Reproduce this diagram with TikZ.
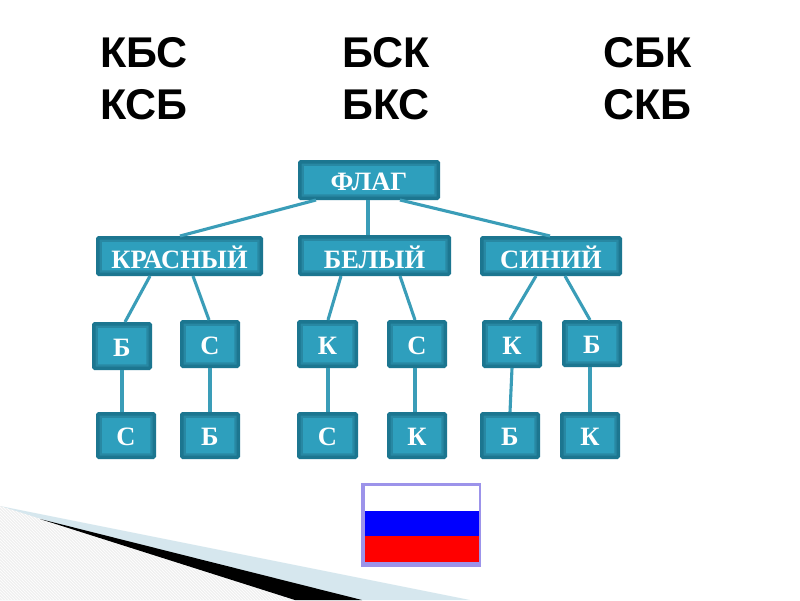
\documentclass[tikz,border=0pt]{standalone}
\usepackage{fontspec}
\setmainfont{Liberation Sans}
\newfontfamily\boxfont{Liberation Serif}[BoldFont={Liberation Serif Bold}]
\usetikzlibrary{calc,patterns}
\definecolor{tealfill}{HTML}{2E9FBD}
\definecolor{tealedge}{HTML}{1C7690}
\definecolor{tealring}{HTML}{2888A3}
\definecolor{teallink}{HTML}{3A9DB8}
\definecolor{paleblue}{HTML}{D6E7EE}
\definecolor{framelilac}{HTML}{9C93EA}
\tikzset{
  x=1pt,y=-1pt,
  tbox/.style={draw=tealedge,line width=3.5pt,fill=tealfill,rounded corners=1pt,inner sep=0pt,
    text=white,font=\boxfont\bfseries\fontsize{26.5}{28}\selectfont,anchor=north west,
    path picture={\draw[tealring,line width=8pt] (path picture bounding box.south west) rectangle (path picture bounding box.north east);}},
  link/.style={draw=teallink,line width=3.1pt},
  head/.style={font=\bfseries\fontsize{43}{47}\selectfont,text=black,anchor=west,inner sep=0pt}
}
\newcommand{\tb}[6]{\node[tbox,minimum width=#4pt-#2pt-3.5pt,minimum height=#5pt-#3pt-3.5pt] (#1) at (#2,#3) {\raisebox{-1.5pt}[\height][\depth]{#6}};}
\begin{document}
\begin{tikzpicture}
\useasboundingbox (0,0) rectangle (800,600);
\fill[white] (0,0) rectangle (800,600);
% bottom decoration
\fill[paleblue] (0,506) -- (470,600) -- (0,600) -- cycle;
\fill[black!6] (0,506) -- (295,600) -- (0,600) -- cycle;
\fill[pattern=north west lines,pattern color=white] (0,506) -- (295,600) -- (0,600) -- cycle;
\fill[black] (40,519) -- (362,600) -- (295,600) -- cycle;
% headings
\node[head] (h1) at (100,53) {КБС};
\node[head] (h2) at (100,105) {КСБ};
\node[head] (h3) at (342,53) {БСК};
\node[head] (h4) at (342,105) {БКС};
\node[head] (h5) at (603,53) {СБК};
\node[head] (h6) at (603,105) {СКБ};
% boxes
\tb{flag}{298}{160}{440}{200}{ФЛАГ}
\tb{red}{96}{236}{263}{276}{КРАСНЫЙ}
\tb{white}{298}{235}{451}{276}{БЕЛЫЙ}
\tb{blue}{480}{236}{622}{276}{СИНИЙ}
\tb{a1}{92}{322}{152}{370}{Б}
\tb{a2}{180}{320}{240}{368}{С}
\tb{a3}{297}{320}{358}{368}{К}
\tb{a4}{387}{320}{447}{368}{С}
\tb{a5}{482}{320}{542}{368}{К}
\tb{a6}{562}{320}{622}{367}{Б}
\tb{b1}{96}{412}{156}{459}{С}
\tb{b2}{180}{412}{240}{459}{Б}
\tb{b3}{297}{412}{358}{459}{С}
\tb{b4}{387}{412}{447}{459}{К}
\tb{b5}{480}{412}{540}{459}{Б}
\tb{b6}{560}{412}{620}{459}{К}
% connectors
\draw[link] ($(flag.south west)+(18,0)$) -- ($(red.north west)+(84,0)$);
\draw[link] ($(flag.south west)+(70,0)$) -- ($(white.north west)+(70,0)$);
\draw[link] ($(flag.south west)+(102,0)$) -- ($(blue.north west)+(70,0)$);
\draw[link] ($(red.south west)+(54,0)$) -- ($(a1.north west)+(33,0)$);
\draw[link] ($(red.south west)+(97,0)$) -- ($(a2.north west)+(29,0)$);
\draw[link] ($(white.south west)+(43,0)$) -- ($(a3.north west)+(31,0)$);
\draw[link] ($(white.south west)+(102,0)$) -- ($(a4.north west)+(28,0)$);
\draw[link] ($(blue.south west)+(56,0)$) -- ($(a5.north west)+(28,0)$);
\draw[link] ($(blue.south west)+(85,0)$) -- ($(a6.north west)+(28,0)$);
\draw[link] ($(a1.south west)+(30,0)$) -- ($(b1.north west)+(26,0)$);
\draw[link] ($(a2.south west)+(30,0)$) -- ($(b2.north west)+(30,0)$);
\draw[link] ($(a3.south west)+(31,0)$) -- ($(b3.north west)+(31,0)$);
\draw[link] ($(a4.south west)+(28,0)$) -- ($(b4.north west)+(28,0)$);
\draw[link] ($(a5.south west)+(30,0)$) -- ($(b5.north west)+(30,0)$);
\draw[link] ($(a6.south west)+(28,0)$) -- ($(b6.north west)+(30,0)$);
% flag
\fill[framelilac] (361,483) rectangle (481,567);
\fill[white] (365,486) rectangle (479,511);
\fill[blue] (365,511) rectangle (479,536);
\fill[red] (365,536) rectangle (479,562);
\end{tikzpicture}
\end{document}
